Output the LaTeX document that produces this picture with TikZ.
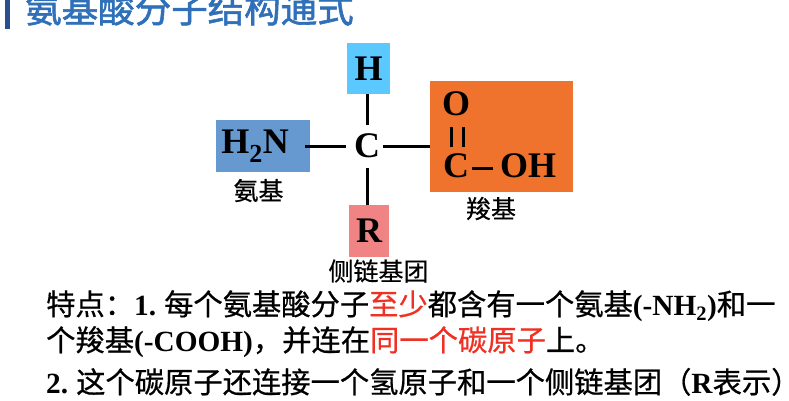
\documentclass[tikz,border=0pt]{standalone}
\usepackage{fontspec}
\setmainfont{Liberation Serif}
\newfontfamily\cjk[FakeBold=0.6]{Noto Sans CJK SC}
\newfontfamily\cjkt[FakeBold=1.6]{Noto Sans CJK SC}
\definecolor{titleblue}{HTML}{2F70B9}
\definecolor{barblue}{HTML}{2A4F8F}
\definecolor{hbox}{HTML}{5BC8FF}
\definecolor{nbox}{HTML}{6699D0}
\definecolor{rbox}{HTML}{F08484}
\definecolor{obox}{HTML}{EF722D}
\definecolor{hl}{HTML}{EE3124}
\newcommand{\atom}[1]{\fontsize{36}{36}\selectfont\bfseries #1}
\newcommand{\lab}[1]{\fontsize{25}{26}\selectfont\cjk #1}
\newcommand{\body}{\fontsize{29.3}{30}\selectfont\cjk}
\newcommand{\ltn}[1]{{\fontsize{29.3}{30}\selectfont\rmfamily\bfseries #1}}
\newcommand{\red}[1]{\textcolor{hl}{#1}}
\tikzset{
  x=1pt,y=-1pt,
  groupbox/.style={inner sep=0pt,outer sep=0pt,anchor=north west},
  atomtext/.style={inner sep=0pt,font=\atom{}},
  caption/.style={inner sep=0pt},
  bodyline/.style={inner sep=0pt,anchor=base west},
  bond/.style={draw=black,line width=3pt},
}
\begin{document}
\begin{tikzpicture}
\useasboundingbox (0,0) rectangle (789,400);
\clip (0,0) rectangle (789,400);
\fill[barblue] (5,0) rectangle (10,29);
\node[inner sep=0pt,anchor=base west,text=titleblue] (title) at (25,22.5)
  {\fontsize{36.5}{38}\selectfont\cjkt 氨基酸分子结构通式};
% boxes
\node[groupbox,fill=hbox,minimum width=43pt,minimum height=51pt] (hb) at (347,43) {};
\node[atomtext] (ht) at (hb.center) {H};
\node[groupbox,fill=nbox,minimum width=94pt,minimum height=52pt] (nb) at (216,120) {};
\node[atomtext] (nt) at (255,146) {H\textsubscript{\fontsize{26}{26}\selectfont 2}N};
\node[groupbox,fill=rbox,minimum width=40pt,minimum height=52pt] (rb) at (349,205) {};
\node[atomtext] (rt) at (rb.center) {R};
\node[groupbox,fill=obox,minimum width=143pt,minimum height=111pt] (ob) at (430,81) {};
\node[atomtext] (c) at (367,146) {C};
\coordinate (cn) at (367,125);
\coordinate (cs) at (367,168);
\coordinate (cw) at (346,146);
\coordinate (ce) at (383,146);
\draw[bond] (cn) -- (cn |- hb.south);
\draw[bond] (cs) -- (cs |- rb.north);
\draw[bond,shorten <=-5pt] (nb.east) -- (cw);
\draw[bond] (ce) -- (ob.west |- ce);
% carboxyl
\node[atomtext] (o) at (456,104) {O};
\node[atomtext] (cc) at (456,166) {C};
\node[atomtext,anchor=west] (oh) at (500,166) {OH};
\coordinate (d1) at (451.7,127);
\coordinate (d2) at (451.7,147);
\coordinate (d3) at (463,127);
\coordinate (d4) at (463,147);
\draw[bond] (d1) -- (d2);
\draw[bond] (d3) -- (d4);
\draw[bond,shorten <=3pt,shorten >=7pt] (cc.east |- 0,168) -- (oh.west |- 0,168);
% captions
\node[caption] (c1) at (258.5,190.5) {\lab{氨基}};
\node[caption] (c2) at (491,208.5) {\lab{羧基}};
\node[caption] (c3) at (378.5,271) {\lab{侧链基团}};
% body
\node[bodyline] (l1) at (46,315) {\body 特点：\ltn{1.\kern 8pt}每个氨基酸分子\red{至少}都含有一个氨基\ltn{(-NH\textsubscript{2})}和一};
\node[bodyline] (l2) at (46,351) {\body 个羧基\ltn{(-COOH)}，并连在\red{同一个碳原子}上。};
\node[bodyline] (l3) at (46,393) {\body \ltn{2.\kern 8pt}这个碳原子还连接一个氢原子和一个侧链基团（\ltn{R}表示）};
\end{tikzpicture}
\end{document}
